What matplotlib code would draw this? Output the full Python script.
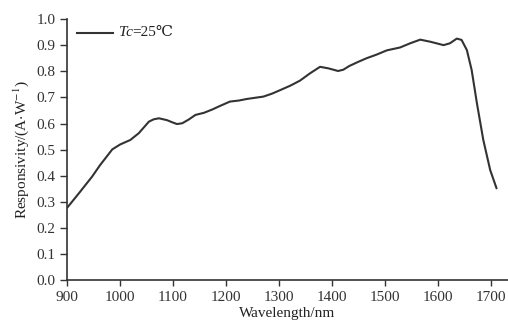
import matplotlib
matplotlib.use("Agg")
import matplotlib.pyplot as plt
from matplotlib.offsetbox import AnchoredOffsetbox, HPacker, TextArea, DrawingArea
from matplotlib.lines import Line2D

wavelength = [901, 923, 948, 963, 973, 986, 1001, 1020, 1036, 1055, 1064, 1074, 1089, 1100,
              1108, 1118, 1130, 1143, 1159, 1175, 1190, 1208, 1225, 1240, 1271, 1287, 1303,
              1322, 1340, 1359, 1378, 1394, 1412, 1422, 1433, 1450, 1466, 1485, 1504, 1529,
              1548, 1567, 1586, 1611, 1623, 1636, 1645, 1655, 1664, 1674, 1686, 1699, 1711]
responsivity = [0.278, 0.333, 0.397, 0.441, 0.467, 0.501, 0.520, 0.537, 0.563, 0.607, 0.616,
                0.620, 0.613, 0.604, 0.598, 0.601, 0.615, 0.633, 0.641, 0.654, 0.668, 0.684,
                0.688, 0.694, 0.703, 0.714, 0.728, 0.745, 0.764, 0.792, 0.817, 0.811, 0.801,
                0.806, 0.820, 0.836, 0.850, 0.864, 0.880, 0.891, 0.907, 0.921, 0.913, 0.900,
                0.907, 0.925, 0.920, 0.881, 0.805, 0.677, 0.537, 0.422, 0.352]
xticks = [900, 1000, 1100, 1200, 1300, 1400, 1500, 1600, 1700]
yticks = [0.0, 0.1, 0.2, 0.3, 0.4, 0.5, 0.6, 0.7, 0.8, 0.9, 1.0]
legend_var = "Tc"
legend_rest = "=25℃"

fonts = ['Liberation Serif', 'DejaVu Serif']
plt.rcParams['font.family'] = fonts
plt.rcParams['mathtext.fontset'] = 'stix'

fig = plt.figure(figsize=(5.08, 3.22), dpi=100)
ax = fig.add_axes([0.1313, 0.1295, 0.8687, 0.8115])
ax.plot(wavelength, responsivity, color='#333333', lw=1.5,
        solid_joinstyle='round', solid_capstyle='round')
ax.set_xlim(900, 1732.6)
ax.set_ylim(0, 1.0)
ax.set_xticks(xticks)
ax.set_yticks(yticks)
ax.set_yticklabels([f"{v:.1f}" for v in yticks])
for s in ['top', 'right']:
    ax.spines[s].set_visible(False)
for s in ['left', 'bottom']:
    ax.spines[s].set_color('#333333')
    ax.spines[s].set_linewidth(1.2)
ax.tick_params(axis='both', direction='out', labelsize=11, colors='#333333', width=1.0)
ax.tick_params(axis='y', length=5, pad=3)
ax.tick_params(axis='x', length=4, pad=4)
ax.set_xlabel('Wavelength/nm', fontsize=11, color='#222222', labelpad=2)
ax.set_ylabel(r'Responsivity/(A$\cdot$W$^{-1}$)', fontsize=11, color='#222222', labelpad=4)

# custom legend: line + italic "Tc" + "=25℃"
da = DrawingArea(26, 8, 0, 0)
da.add_artist(Line2D([0, 26], [4, 4], color='#333333', lw=1.5))
t1 = TextArea(legend_var, textprops=dict(family=fonts, style='italic', fontsize=11, color='#222222'))
t2 = TextArea(legend_rest, textprops=dict(family=fonts, fontsize=11, color='#222222'))
txt = HPacker(children=[t1, t2], align='baseline', pad=0, sep=0)
box = HPacker(children=[da, txt], align='center', pad=0, sep=4)
anch = AnchoredOffsetbox(loc='upper left', child=box, pad=0, frameon=False,
                         bbox_to_anchor=(0.023, 0.973), bbox_transform=ax.transAxes,
                         borderpad=0)
ax.add_artist(anch)
fig.savefig('out.png', dpi=100)
